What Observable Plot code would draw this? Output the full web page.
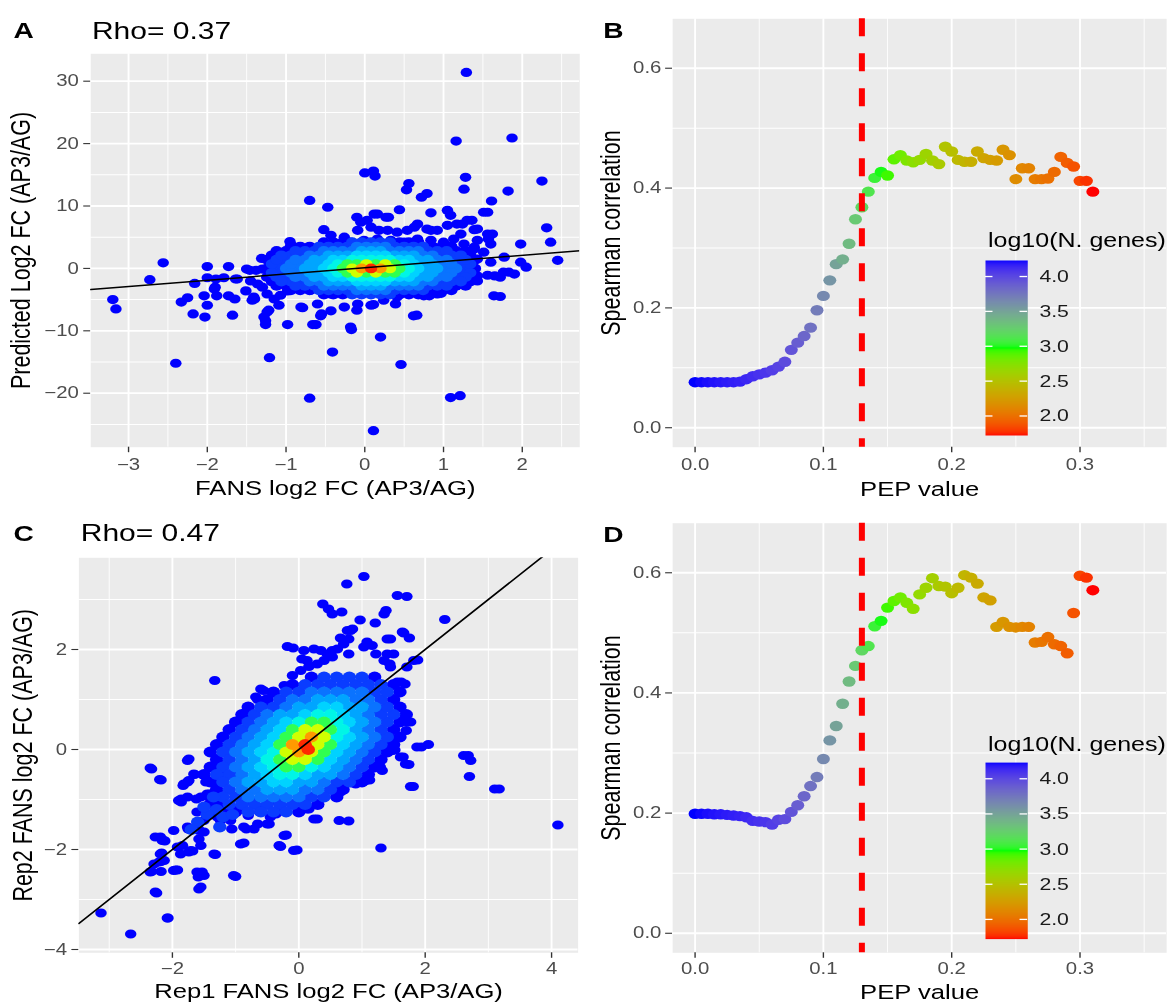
<!DOCTYPE html>
<html><head><meta charset="utf-8">
<script src="https://cdn.jsdelivr.net/npm/d3@7"></script>
<script src="https://cdn.jsdelivr.net/npm/@observablehq/plot@0.6"></script>
<style>
html,body{margin:0;padding:0;background:#fff;overflow:hidden;width:1169px;height:1005px}
#wrap{position:absolute;left:0;top:0;width:935.2px;height:1005px;transform:scaleX(1.25);transform-origin:0 0}
.panel{position:absolute}
.panel svg{display:block}
</style></head><body>
<div id="wrap">
  <div class="panel" id="pA" style="left:0;top:0;width:466px;height:500px"></div>
  <div class="panel" id="pB" style="left:466px;top:0;width:469px;height:500px"></div>
  <div class="panel" id="pC" style="left:0;top:500px;width:466px;height:505px"></div>
  <div class="panel" id="pD" style="left:466px;top:500px;width:469px;height:505px"></div>
  <div class="panel" id="lB" style="left:780px;top:222px;width:155px;height:218px"></div>
  <div class="panel" id="lD" style="left:780px;top:725px;width:155px;height:218.6px"></div>
</div>
<script>
// ---------------- DATA ----------------
const letters = ["A", "B", "C", "D"];
const rhoA = "Rho= 0.37", rhoC = "Rho= 0.47";
const titleAx = "FANS log2 FC (AP3/AG)", titleAy = "Predicted Log2 FC (AP3/AG)";
const titleCx = "Rep1 FANS log2 FC (AP3/AG)", titleCy = "Rep2 FANS log2 FC (AP3/AG)";
const titlePepX = "PEP value", titlePepY = "Spearman correlation";
const legendTitle = "log10(N. genes)";

const aXMajor = [-3, -2, -1, 0, 1, 2], aXMinor = [-2.5, -1.5, -0.5, 0.5, 1.5, 2.5];
const aYMajor = [-20, -10, 0, 10, 20, 30], aYMinor = [-25, -15, -5, 5, 15, 25];
const cXMajor = [-2, 0, 2, 4], cXMinor = [-3, -1, 1, 3];
const cYMajor = [-4, -2, 0, 2], cYMinor = [-3, -1, 1, 3];
const pXMajor = [0, 0.1, 0.2, 0.3], pXMinor = [0.05, 0.15, 0.25, 0.35];
const pYMajor = [0, 0.2, 0.4, 0.6], pYMinor = [0.1, 0.3, 0.5];
const legendTicks = [2.0, 2.5, 3.0, 3.5, 4.0];

const lineA = {intercept: 0.1, slope: 1.0};
const lineC = {intercept: 0.0, slope: 1.0};
const pepCutoff = 0.13;

const densityLevels = [0, 1, 2, 3, 4, 5, 6, 7, 8, 9];
const densityColors = ["#0000FF", "#0A3CFF", "#0A73FF", "#00A5FF", "#00D2FF", "#00F5E6", "#30FF50", "#D0FF00", "#FF9A00", "#FF2A00"];

const nDomain = [1.72, 2.975, 4.23];
const nColors = ["#FF0000", "#00FF00", "#0000FF"];

// ----- Panel A points -----
const aL0scatter = [[1.29,31.4],[1.16,20.4],[1.87,20.9],[0.0,15.3],[0.11,15.6],[0.13,14.8],[1.28,14.6],[1.26,12.7],[2.25,14.0],[0.56,13.6],[0.53,12.6],[0.72,11.4],[0.79,12.0],[1.82,12.4],[-0.70,10.9],[-0.47,9.8],[1.61,10.8],[0.44,9.4],[1.56,9.0],[0.84,8.9],[1.05,9.3],[1.09,8.5],[1.3,7.7],[0.16,8.7],[0.12,8.7],[0.03,7.7],[-0.05,7.4],[-0.10,8.2],[0.30,8.2],[0.27,8.2],
[2.31,6.5],[1.98,3.9],[2.36,4.2],[2.45,1.3],[1.98,1.0],[2.05,0.2],[1.83,-0.6],[1.76,-0.6],[1.72,-4.5],[1.36,7.7],[1.24,7.1],[1.39,6.2],[1.62,5.5],[1.57,4.7],
[-2.56,0.9],[-2.73,-1.8],[-3.2,-5.0],[-3.16,-6.5],[-2.0,0.3],[-1.73,0.3],[-2.33,-5.4],[-2.25,-4.7],[-2.16,-2.4],[-2.18,-7.3],[-2.03,-7.8],[-2.0,-5.9],[-2.04,-4.4],[-1.88,-4.4],[-1.9,-3.0],[-1.73,-4.4],[-1.65,-4.9],[-1.62,-1.7],[-1.68,-7.5],[-2.0,-1.5],[-1.89,-1.7],[-1.91,-3.3],[-1.79,-1.5],[-1.64,-1.7],
[-1.31,1.6],[-1.5,-0.1],[-1.4,-4.9],[-1.24,-7.0],[-1.26,-8.4],[-1.26,-9.0],[-0.98,-9.0],[-0.95,4.3],[-0.93,3.7],[-0.52,6.2],[-0.78,2.3],[-0.79,-6.3],[-0.62,-9.0],[-0.55,-7.3],[-0.17,-9.8],[-0.1,-6.7],[0.11,-5.8],[0.2,-11.0],[-0.41,-13.4],[0.46,-15.4],[-1.21,-14.3],[-2.4,-15.2],[-0.7,-20.8],[1.09,-20.7],[1.21,-20.4],[0.11,-26.0],[0.66,-7.5],[0.39,-5.7],[0.82,-4.4],[0.97,-4.0],[1.27,-2.5],[1.43,-1.2],[1.65,-1.2],[1.39,3.1],
[-1.46,-0.3],[-1.38,-0.3],[-1.3,-0.1],[-1.24,-0.3],[-1.15,-0.6],[-1.07,0.2],[-0.98,0.7],[-0.81,2.3],[-0.9,0.9],[-1.51,-3.6],[-1.45,-2.0],[-1.36,-2.5],[-1.41,-4.6],[-1.3,-3.0],[-1.24,-4.1],[-1.15,-4.9],[-1.07,-4.3],[-0.98,-3.6],[-0.9,-3.0],[-0.84,-2.2],[-1.43,-5.1],[-1.22,-6.7],[-1.28,-7.8],[-1.09,-5.9],[-1.07,-1.9],[-0.98,-1.1],[-0.9,-1.7],
[1.51,9.0],[-0.43,5.3],[-0.26,5.0],[-0.09,6.1],[0.08,6.6],[0.18,6.1],[0.29,6.1],[0.41,5.8],[0.54,6.1],[0.67,7.1],[0.79,6.3],[0.92,6.1],[1.05,6.9],[1.17,7.1],[1.22,5.5],[1.43,6.3],[1.56,5.5],[-0.52,3.9],[-0.35,3.7],[-0.18,4.2],[-0.01,4.5],[0.16,4.7],[0.33,4.5],[0.5,4.2],[0.67,4.7],[0.84,4.5],[1.0,4.2],[1.13,4.7],[1.26,3.9],[1.39,3.4],[1.51,2.6],[1.6,3.9],[-0.64,1.5],[1.26,1.8],[1.43,1.5],[1.6,1.0],[1.77,1.8],[-0.94,0.2],[-0.69,0.7],[-0.9,-2.0],[-0.77,-2.5],[-0.69,-3.5],[-0.56,-3.0],[-0.43,-4.1],[-0.31,-3.5],[-0.14,-3.0],[0.03,-3.5],[0.2,-3.0],[0.37,-3.5],[0.54,-3.0],[0.71,-3.3],[0.88,-2.7],[1.05,-2.5],[1.22,-1.9],[1.39,-1.4],[1.56,-1.1],[1.72,-1.4],[1.9,-0.9],[-0.81,-6.2],[-0.6,-5.7],[-0.43,-6.8],[-0.26,-6.2],[-0.09,-5.7],[0.08,-5.9],[0.24,-5.1],[0.41,-4.6],[0.62,-7.6],[0.75,-4.4],[0.92,-4.1],[1.09,-3.0],[1.26,-2.5],[1.43,-2.0],[1.64,-4.4],[-0.56,-7.6],[-0.18,-9.4],[-0.66,-9.0],
[0.84,6.1],[0.63,6.6],[1.43,4.5]];
const aL0 = [[-1.24,0],[1.4,0],[1.4,1.4],[-1.24,1.4],[1.4,-1.4],[-1.24,-1.4],[1.34,2.1],[-1.18,2.1],[1.34,-2.1],[-1.18,-2.1],[1.16,2.8],[-1.0,2.8],[1.28,2.8],[-1.12,2.8],[1.16,-2.8],[-1.0,-2.8],[1.28,-2.8],[-1.12,-2.8],[0.86,3.5],[-0.7,3.5],[0.98,3.5],[-0.82,3.5],[1.1,3.5],[-0.94,3.5],[0.86,-3.5],[-0.7,-3.5],[0.98,-3.5],[-0.82,-3.5],[1.1,-3.5],[-0.94,-3.5],[0.44,4.2],[-0.28,4.2],[0.56,4.2],[-0.4,4.2],[0.68,4.2],[-0.52,4.2],[0.44,-4.2],[-0.28,-4.2],[0.56,-4.2],[-0.4,-4.2],[0.68,-4.2],[-0.52,-4.2]];
const aL1 = [[-1.12,0],[1.28,0],[1.22,0.7],[-1.06,0.7],[1.34,0.7],[-1.18,0.7],[1.22,-0.7],[-1.06,-0.7],[1.34,-0.7],[-1.18,-0.7],[1.16,1.4],[-1.0,1.4],[1.28,1.4],[-1.12,1.4],[1.16,-1.4],[-1.0,-1.4],[1.28,-1.4],[-1.12,-1.4],[0.98,2.1],[-0.82,2.1],[1.1,2.1],[-0.94,2.1],[1.22,2.1],[-1.06,2.1],[0.98,-2.1],[-0.82,-2.1],[1.1,-2.1],[-0.94,-2.1],[1.22,-2.1],[-1.06,-2.1],[0.8,2.8],[-0.64,2.8],[0.92,2.8],[-0.76,2.8],[1.04,2.8],[-0.88,2.8],[0.8,-2.8],[-0.64,-2.8],[0.92,-2.8],[-0.76,-2.8],[1.04,-2.8],[-0.88,-2.8],[0.38,3.5],[-0.22,3.5],[0.5,3.5],[-0.34,3.5],[0.62,3.5],[-0.46,3.5],[0.74,3.5],[-0.58,3.5],[0.38,-3.5],[-0.22,-3.5],[0.5,-3.5],[-0.34,-3.5],[0.62,-3.5],[-0.46,-3.5],[0.74,-3.5],[-0.58,-3.5],[0.08,4.2],[0.2,4.2],[-0.04,4.2],[0.32,4.2],[-0.16,4.2],[0.08,-4.2],[0.2,-4.2],[-0.04,-4.2],[0.32,-4.2],[-0.16,-4.2]];
const aL2 = [[-1.0,0],[-0.88,0],[1.04,0],[1.16,0],[0.98,0.7],[-0.82,0.7],[1.1,0.7],[-0.94,0.7],[0.98,-0.7],[-0.82,-0.7],[1.1,-0.7],[-0.94,-0.7],[0.92,1.4],[-0.76,1.4],[1.04,1.4],[-0.88,1.4],[0.92,-1.4],[-0.76,-1.4],[1.04,-1.4],[-0.88,-1.4],[0.74,2.1],[-0.58,2.1],[0.86,2.1],[-0.7,2.1],[0.74,-2.1],[-0.58,-2.1],[0.86,-2.1],[-0.7,-2.1],[0.32,2.8],[-0.16,2.8],[0.44,2.8],[-0.28,2.8],[0.56,2.8],[-0.4,2.8],[0.68,2.8],[-0.52,2.8],[0.32,-2.8],[-0.16,-2.8],[0.44,-2.8],[-0.28,-2.8],[0.56,-2.8],[-0.4,-2.8],[0.68,-2.8],[-0.52,-2.8],[0.14,3.5],[0.02,3.5],[0.26,3.5],[-0.1,3.5],[0.14,-3.5],[0.02,-3.5],[0.26,-3.5],[-0.1,-3.5]];
const aL3 = [[-0.76,0],[-0.64,0],[0.8,0],[0.92,0],[0.74,0.7],[-0.58,0.7],[0.86,0.7],[-0.7,0.7],[0.74,-0.7],[-0.58,-0.7],[0.86,-0.7],[-0.7,-0.7],[0.68,1.4],[-0.52,1.4],[0.8,1.4],[-0.64,1.4],[0.68,-1.4],[-0.52,-1.4],[0.8,-1.4],[-0.64,-1.4],[0.38,2.1],[-0.22,2.1],[0.5,2.1],[-0.34,2.1],[0.62,2.1],[-0.46,2.1],[0.38,-2.1],[-0.22,-2.1],[0.5,-2.1],[-0.34,-2.1],[0.62,-2.1],[-0.46,-2.1],[0.08,2.8],[0.2,2.8],[-0.04,2.8],[0.08,-2.8],[0.2,-2.8],[-0.04,-2.8]];
const aL4 = [[-0.52,0],[0.68,0],[0.62,0.7],[-0.46,0.7],[0.62,-0.7],[-0.46,-0.7],[0.44,1.4],[-0.28,1.4],[0.56,1.4],[-0.4,1.4],[0.44,-1.4],[-0.28,-1.4],[0.56,-1.4],[-0.4,-1.4],[0.14,2.1],[0.02,2.1],[0.26,2.1],[-0.1,2.1],[0.14,-2.1],[0.02,-2.1],[0.26,-2.1],[-0.1,-2.1]];
const aL5 = [[-0.4,0],[0.56,0],[0.5,0.7],[-0.34,0.7],[0.5,-0.7],[-0.34,-0.7],[0.08,1.4],[0.2,1.4],[-0.04,1.4],[0.32,1.4],[-0.16,1.4],[0.08,-1.4],[0.2,-1.4],[-0.04,-1.4],[0.32,-1.4],[-0.16,-1.4]];
const aL6 = [[-0.28,0],[0.44,0],[0.38,0.7],[-0.22,0.7],[0.14,0.7],[-0.1,0.7],[0.38,-0.7],[-0.22,-0.7],[0.02,-0.7],[0.26,-0.7]];
const aL7 = [[-0.16,0],[0.32,0],[0.02,0.7],[0.26,0.7],[0.14,-0.7],[-0.1,-0.7]];
const aL8 = [[-0.04,0],[0.2,0]];
const aL9 = [[0.08,0]];

// ----- Panel C points -----
const cL0scatter = [[1.03,3.46],[0.76,3.31],[0.38,2.91],[0.47,2.81],[0.53,2.71],[0.68,2.75],[0.97,2.59],[1.21,2.53],[1.35,2.71],[1.38,2.78],[1.56,3.08],[1.71,3.06],[2.31,2.6],[1.66,2.33],[1.75,2.23],[1.45,2.21],[0.85,2.41],[0.66,2.23],[-0.18,2.06],[-0.09,2.03],[-1.33,1.38],[1.88,1.79],[1.71,1.65],[1.44,1.71],[1.5,1.91],[1.62,1.35],[1.68,1.31],[1.77,0.55],[1.7,0.38],[1.94,0.05],[2.05,0.1],[2.68,-0.12],[2.72,-0.22],[2.7,-0.54],[3.17,-0.79],[4.1,-1.51],[1.81,-0.74],[1.74,-0.3],[1.65,-0.15],[1.52,-0.01],[1.47,0.21],[1.33,0.06],[1.3,-1.97],[0.79,-1.43],[0.29,-1.39],[0.16,-1.19],[-0.03,-2.01],[-0.2,-1.71],[-0.29,-1.94],[-0.03,-1.05],[0.9,-0.69],[1.12,-0.61],[0.66,-0.85],[-1.0,-2.54],[-0.87,-1.87],[-1.32,-2.1],[-1.53,-2.45],[-1.59,-2.55],[-1.5,-2.52],[-1.55,-2.75],[-1.92,-2.41],[-2.07,-3.37],[-2.66,-3.69],[-3.13,-3.27],[-2.25,-2.87],[-2.33,-2.44],[-2.18,-2.44],[-2.18,-2.24],[-2.17,-2.07],[-2.27,-1.75],[-2.12,-1.83],[-1.87,-2.09],[-1.68,-2.03],[-1.84,-1.92],[-1.74,-1.59],[-1.59,-1.59],[-1.5,-1.65],[-1.86,-0.99],[-1.86,-1.05],[-2.33,-0.39],[-2.18,-0.61],[-1.74,-0.19],[-1.83,-0.72],[-1.74,-0.62],[-1.65,-0.5],[-1.36,-0.34],[-1.15,-0.05],[-1.33,-0.65],[-1.18,-0.55],[-1.62,-0.99],[-1.41,-0.89],[-1.36,-1.05],[-1.5,-1.22],[-1.33,-1.12],[-1.24,-1.42],[-1.06,-1.59],[-0.83,-1.59],[-0.65,-1.49],[-0.47,-1.49],[-1.18,-1.25],[-1.0,-1.22],[-0.8,-1.32],[-0.62,-1.25],[-0.36,-1.29],[-0.24,-1.22],[-0.33,-1.05],[-0.56,1.18],[-0.39,1.13],[-0.65,1.0],[-0.83,0.75],[-0.74,0.71],[-0.89,0.15],[-0.8,0.45],[-0.95,0.19],
[0.08,1.98],[0.24,2.01],[0.35,1.98],[0.45,1.91],[0.53,1.98],[0.61,2.01],[0.05,1.81],[0.13,1.78],[-0.6,1.21],[-0.68,1.05],[-0.42,1.15],[-0.76,0.48],[-0.53,0.91],[-0.23,1.28],[-0.1,1.48],[0.03,1.58],[0.16,1.66],[0.29,1.71],[0.4,1.78],[0.53,1.85],[0.71,2.11],[0.77,2.38],[0.79,1.91],
[0.82,2.38],[0.79,2.21],[1.08,2.15],[1.16,2.08],[1.22,1.91],[1.4,2.21],[1.64,2.35],[1.4,1.91],[1.03,2.05],[1.35,1.78],[1.45,1.65],[1.82,1.78],[1.56,1.35],[1.24,0.81],[1.72,0.55],[1.29,0.31],[1.43,0.18],[1.45,0.01],[1.87,0.05],[1.27,0.08],[1.48,-0.02],[1.08,-0.05],[1.11,-0.22],[1.61,-0.15],[1.69,-0.29],[1.29,-0.35],[1.32,-0.42],[1.06,-0.62],[0.85,-0.67],[0.61,-0.82],[1.77,-0.74],[2.61,-0.12],[3.1,-0.79],[1.14,0.78],[0.93,0.51],[0.98,0.31],
[-1.66,-0.49],[-1.82,-0.69],[-1.9,-1.02],[-1.1,-0.29],[-1.39,-0.35],[-1.24,-0.42],[-1.03,-0.52],[-1.47,-0.65],[-1.29,-0.62],[-1.55,-0.95],[-1.42,-1.09],[-1.29,-1.02],[-1.61,-1.25],[-1.5,-1.42],[-1.29,-1.35],[-1.08,-1.42],[-0.87,-1.55],[-0.71,-1.59],[-0.5,-1.49],[-0.45,-1.35],[-1.13,-1.12],[-0.92,-1.15],[-0.76,-1.02],[-0.6,-1.19],[-0.29,-1.22],[-0.02,-1.05],[0.13,-1.19],[0.24,-1.39],[0.64,-1.42],[-0.23,-1.72],[-0.31,-1.92],[-0.08,-2.02],[-0.92,-1.89],[-1.34,-2.09],[-1.76,-1.55],[-1.98,-1.62],[-1.58,-1.79],[-1.55,-1.92],[-1.74,-2.05],[-2.19,-1.75],[-2.13,-1.82],[-2.29,-2.29],[-2.13,-2.22],[-1.98,-2.42],[-1.61,-2.45],[-1.03,-2.52],
[-2.35,-0.37],[-2.2,-0.6],[-1.76,-0.22],[-1.76,-0.65],[-1.76,-0.95],[-1.45,-0.89],[-1.75,-1.59],[-1.58,-1.62],[-2.16,-1.82],[-1.92,-1.95],[-1.71,-2.02],[-2.19,-2.09],[-2.21,-2.25],[-2.35,-2.45],[-1.95,-2.41],[-2.27,-2.85],[-2.08,-3.37],[-1.58,-2.79]];
const cL0 = [[1.5,0.1],[-1.3,0.1],[-1.2,0.25],[1.6,0.25],[1.4,-0.05],[-1.4,-0.05],[-1.1,0.4],[1.5,0.4],[1.3,-0.2],[-1.3,-0.2],[-1.0,0.55],[1.6,0.55],[1.2,-0.35],[-1.4,-0.35],[-0.9,0.7],[1.7,0.7],[1.1,-0.5],[-1.5,-0.5],[-0.8,0.85],[1.6,0.85],[1.0,-0.65],[-1.4,-0.65],[-0.5,1.0],[1.5,1.0],[0.7,-0.8],[-1.3,-0.8],[-0.4,1.15],[1.6,1.15],[0.6,-0.95],[-1.4,-0.95],[-0.1,1.3],[1.5,1.3],[0.3,-1.1],[-1.3,-1.1],[0.2,1.45],[1.2,1.45],[0.0,-1.25],[-1.0,-1.25]];
const cL1 = [[1.3,0.1],[-1.1,0.1],[-1.0,0.25],[1.4,0.25],[1.2,-0.05],[-1.2,-0.05],[-0.9,0.4],[1.3,0.4],[1.1,-0.2],[-1.1,-0.2],[-0.8,0.55],[1.4,0.55],[1.0,-0.35],[-1.2,-0.35],[-0.7,0.7],[1.3,0.7],[1.5,0.7],[0.9,-0.5],[-1.1,-0.5],[-1.3,-0.5],[-0.4,0.85],[-0.6,0.85],[1.4,0.85],[0.6,-0.65],[0.8,-0.65],[-1.2,-0.65],[-0.3,1.0],[1.3,1.0],[0.5,-0.8],[-1.1,-0.8],[0.0,1.15],[1.2,1.15],[-0.2,1.15],[1.4,1.15],[0.2,-0.95],[-1.0,-0.95],[0.4,-0.95],[-1.2,-0.95],[0.1,1.3],[0.3,1.3],[0.5,1.3],[0.7,1.3],[0.9,1.3],[1.1,1.3],[1.3,1.3],[0.1,-1.1],[-0.1,-1.1],[-0.3,-1.1],[-0.5,-1.1],[-0.7,-1.1],[-0.9,-1.1],[-1.1,-1.1],[0.4,1.45],[0.6,1.45],[0.8,1.45],[1.0,1.45],[-0.2,-1.25],[-0.4,-1.25],[-0.6,-1.25],[-0.8,-1.25],[-1.3,-1.2],[-1.45,-1.3],[-1.6,-1.45],[-1.5,-1.15],[-1.35,-0.95],[-1.2,-1.35],[-1.7,-1.6],[-1.05,-1.3],[-1.25,-1.55]];
const cL2 = [[1.1,0.1],[-0.9,0.1],[-0.8,0.25],[1.2,0.25],[1.0,-0.05],[-1.0,-0.05],[-0.7,0.4],[1.1,0.4],[0.9,-0.2],[-0.9,-0.2],[-0.6,0.55],[1.2,0.55],[0.8,-0.35],[-1.0,-0.35],[-0.5,0.7],[1.1,0.7],[0.7,-0.5],[-0.9,-0.5],[-0.2,0.85],[1.2,0.85],[0.4,-0.65],[-1.0,-0.65],[0.1,1.0],[-0.1,1.0],[0.9,1.0],[1.1,1.0],[0.1,-0.8],[0.3,-0.8],[-0.7,-0.8],[-0.9,-0.8],[0.2,1.15],[0.4,1.15],[0.6,1.15],[0.8,1.15],[1.0,1.15],[0.0,-0.95],[-0.2,-0.95],[-0.4,-0.95],[-0.6,-0.95],[-0.8,-0.95]];
const cL3 = [[0.9,0.1],[-0.7,0.1],[-0.6,0.25],[1.0,0.25],[0.8,-0.05],[-0.8,-0.05],[-0.5,0.4],[0.9,0.4],[0.7,-0.2],[-0.7,-0.2],[-0.4,0.55],[1.0,0.55],[0.6,-0.35],[-0.8,-0.35],[-0.1,0.7],[-0.3,0.7],[0.9,0.7],[0.3,-0.5],[0.5,-0.5],[-0.7,-0.5],[0.2,0.85],[0.0,0.85],[0.8,0.85],[1.0,0.85],[0.0,-0.65],[0.2,-0.65],[-0.6,-0.65],[-0.8,-0.65],[0.3,1.0],[0.5,1.0],[0.7,1.0],[-0.1,-0.8],[-0.3,-0.8],[-0.5,-0.8]];
const cL4 = [[0.7,0.1],[-0.5,0.1],[-0.4,0.25],[0.8,0.25],[0.6,-0.05],[-0.6,-0.05],[-0.3,0.4],[0.5,-0.2],[-0.2,0.55],[0.8,0.55],[0.4,-0.35],[-0.6,-0.35],[0.1,0.7],[0.7,0.7],[0.1,-0.5],[-0.5,-0.5],[0.4,0.85],[0.6,0.85],[-0.2,-0.65],[-0.4,-0.65]];
const cL5 = [[0.6,0.25],[-0.4,-0.05],[0.7,0.4],[-0.5,-0.2],[0.0,0.55],[0.6,0.55],[0.2,-0.35],[-0.4,-0.35],[0.3,0.7],[0.5,0.7],[-0.1,-0.5],[-0.3,-0.5]];
const cL6 = [[0.5,0.1],[-0.3,0.1],[-0.2,0.25],[0.4,-0.05],[-0.1,0.4],[0.5,0.4],[0.3,-0.2],[-0.3,-0.2],[0.2,0.55],[0.4,0.55],[0.0,-0.35],[-0.2,-0.35]];
const cL7 = [[0.3,0.1],[0.0,0.25],[0.4,0.25],[0.2,-0.05],[-0.2,-0.05],[0.1,0.4],[0.3,0.4],[0.1,-0.2],[-0.1,-0.2]];
const cL8 = [[-0.1,0.1],[0.2,0.25],[0.0,-0.05]];
const cL9 = [[0.1,0.1],[0.15,0.0]];

// ----- Panels B & D -----
const pep = [0,0.005,0.01,0.015,0.02,0.025,0.03,0.035,0.04,0.045,0.05,0.055,0.06,0.065,0.07,0.075,0.08,0.085,0.09,0.095,0.1,0.105,0.11,0.115,0.12,0.125,0.13,0.135,0.14,0.145,0.15,0.155,0.16,0.165,0.17,0.175,0.18,0.185,0.19,0.195,0.2,0.205,0.21,0.215,0.22,0.225,0.23,0.235,0.24,0.245,0.25,0.255,0.26,0.265,0.27,0.275,0.28,0.285,0.29,0.295,0.3,0.305,0.31];
const spearmanB = [0.076,0.076,0.076,0.076,0.076,0.076,0.076,0.077,
 0.081,0.086,0.089,0.092,0.096,0.102,0.110,
 0.130,0.142,0.153,0.167,0.196,0.220,
 0.246,0.273,0.281,0.307,0.348,0.368,
 0.394,0.417,0.427,0.421,0.448,0.455,
 0.446,0.443,0.447,0.457,0.446,0.440,
 0.469,0.461,0.447,0.444,0.444,0.461,
 0.450,0.447,0.446,0.464,0.455,0.415,
 0.433,0.433,0.415,0.415,0.416,0.427,
 0.452,0.442,0.436,0.412,0.412,0.394];
const spearmanD = [0.199,0.199,0.199,0.198,0.198,0.197,0.196,0.195,
 0.193,0.187,0.186,0.185,0.181,0.189,0.190,
 0.202,0.213,0.228,0.245,0.260,0.290,
 0.321,0.345,0.382,0.419,0.445,0.471,
 0.478,0.511,0.520,0.542,0.553,0.559,
 0.550,0.540,0.564,0.575,0.591,0.578,
 0.577,0.566,0.575,0.596,0.592,0.582,
 0.559,0.554,0.510,0.518,0.510,0.509,
 0.510,0.510,0.484,0.485,0.493,0.481,
 0.478,0.466,0.533,0.595,0.592,0.571];
const log10Genes = [4.23,4.22,4.21,4.20,4.19,4.18,4.17,4.16,
 4.14,4.12,4.10,4.08,4.05,4.02,3.98,
 3.94,3.89,3.84,3.78,3.72,3.65,
 3.58,3.50,3.43,3.36,3.28,3.20,
 3.12,3.05,2.99,2.93,2.87,2.82,
 2.77,2.72,2.68,2.64,2.60,2.56,
 2.52,2.48,2.44,2.41,2.37,2.34,
 2.30,2.27,2.24,2.21,2.18,2.15,
 2.12,2.09,2.06,2.03,2.00,1.97,
 1.94,1.91,1.87,1.83,1.78,1.72];

// ---------------- BUILD ----------------
const FONT = '"Liberation Sans", Arial, Helvetica, sans-serif';
const TICK_FILL = "#4D4D4D", TICK_STROKE = "#333333";
const STYLE = {fontFamily: FONT, background: "transparent", overflow: "visible", maxWidth: "none"};
const intFmt = d => (d < 0 ? "\u2212" : "") + Math.abs(d);
const decFmt = d => d.toFixed(1);

function toRows(groups) {
  const rows = [];
  groups.forEach(([arr, lev]) => arr.forEach(([x, y]) => rows.push({x, y, lev})));
  return rows;
}
const dataAScatter = toRows([[aL0scatter, 0]]);
const dataACore = toRows([[aL0,0],[aL1,1],[aL2,2],[aL3,3],[aL4,4],[aL5,5],[aL6,6],[aL7,7],[aL8,8],[aL9,9]]);
const dataCScatter = toRows([[cL0scatter, 0]]);
const dataCCore = toRows([[cL0,0],[cL1,1],[cL2,2],[cL3,3],[cL4,4],[cL5,5],[cL6,6],[cL7,7],[cL8,8],[cL9,9]]);
const dataB = pep.map((p, i) => ({pep: p, rho: spearmanB[i], n: log10Genes[i]}));
const dataD = pep.map((p, i) => ({pep: p, rho: spearmanD[i], n: log10Genes[i]}));

const colorN = {type: "linear", domain: nDomain, range: nColors, interpolate: "lab"};
const colorDensity = {type: "ordinal", domain: densityLevels, range: densityColors};

function ggBackground(xMajor, xMinor, yMajor, yMinor) {
  return [
    Plot.frame({fill: "#EBEBEB", stroke: "none"}),
    Plot.gridX(xMinor, {stroke: "#FFFFFF", strokeOpacity: 1, strokeWidth: 0.8}),
    Plot.gridY(yMinor, {stroke: "#FFFFFF", strokeOpacity: 1, strokeWidth: 1.0}),
    Plot.gridX(xMajor, {stroke: "#FFFFFF", strokeOpacity: 1, strokeWidth: 1.5}),
    Plot.gridY(yMajor, {stroke: "#FFFFFF", strokeOpacity: 1, strokeWidth: 1.8})
  ];
}
function ggAxes(xMajor, yMajor, fmt, xPad, yPad) {
  const common = {tickSize: 5.5, tickFormat: fmt, fontSize: 16.3, fill: TICK_FILL, stroke: TICK_STROKE, strokeWidth: 1.1, label: null};
  return [
    Plot.axisX(xMajor, {...common, tickPadding: xPad}),
    Plot.axisY(yMajor, {...common, tickPadding: yPad})
  ];
}
function txt(str, opts) {
  return Plot.text([str], {text: d => d, fill: "#000000", fontFamily: FONT, ...opts});
}
function titles(o) {
  const marks = [
    txt(o.xTitle, {frameAnchor: "bottom", dy: o.xTitleDy, textAnchor: "middle", lineAnchor: "bottom", fontSize: 20.5}),
    txt(o.yTitle, {frameAnchor: "left", dx: o.yTitleDx, rotate: -90, textAnchor: "middle", lineAnchor: "bottom", fontSize: 21.5}),
    txt(o.letter, {frameAnchor: "top-left", dx: o.letterDx, dy: o.letterDy, textAnchor: "start", lineAnchor: "bottom", fontSize: 22.5, fontWeight: "bold"})
  ];
  if (o.rho) marks.push(txt(o.rho, {frameAnchor: "top-left", dx: o.rhoDx, dy: o.rhoDy, textAnchor: "start", lineAnchor: "bottom", fontSize: 24}));
  return marks;
}
function fitLine(coef, domain) {
  return domain.map(x => ({x, y: coef.intercept + coef.slope * x}));
}

// Panel A
const aXDomain = [-3.48, 2.73];
document.getElementById("pA").append(Plot.plot({
  width: 466, height: 500, marginLeft: 72.1, marginRight: 2.7, marginTop: 53.3, marginBottom: 53.3,
  style: STYLE,
  x: {domain: aXDomain, label: null},
  y: {domain: [-28.65, 34.39], label: null},
  color: colorDensity,
  marks: [
    ...ggBackground(aXMajor, aXMinor, aYMajor, aYMinor),
    Plot.dot(dataAScatter, {x: "x", y: "y", fill: "lev", r: 4.6}),
    Plot.dot(dataACore, {x: "x", y: "y", fill: "lev", r: 4.9}),
    Plot.line(fitLine(lineA, aXDomain), {x: "x", y: "y", stroke: "#000000", strokeWidth: 1.5, clip: true}),
    ...ggAxes(aXMajor, aYMajor, intFmt, 6, 4),
    ...titles({letter: letters[0], letterDx: -61.7, letterDy: -15.6, rho: rhoA, rhoDx: 0.9, rhoDy: -15.3,
      xTitle: titleAx, xTitleDy: 47.6, yTitle: titleAy, yTitleDx: -48.3})
  ]
}));

// Panel C
const cXDomain = [-3.48, 4.42];
document.getElementById("pC").append(Plot.plot({
  width: 466, height: 505, marginLeft: 62.6, marginRight: 4, marginTop: 57.3, marginBottom: 52.7,
  style: STYLE,
  x: {domain: cXDomain, label: null},
  y: {domain: [-4.066, 3.834], label: null},
  color: colorDensity,
  marks: [
    ...ggBackground(cXMajor, cXMinor, cYMajor, cYMinor),
    Plot.dot(dataCScatter, {x: "x", y: "y", fill: "lev", r: 4.6}),
    Plot.dot(dataCCore, {x: "x", y: "y", fill: "lev", r: 5.4}),
    Plot.line(fitLine(lineC, cXDomain), {x: "x", y: "y", stroke: "#000000", strokeWidth: 1.5, clip: true}),
    ...ggAxes(cXMajor, cYMajor, intFmt, 4, 4),
    ...titles({letter: letters[2], letterDx: -52.2, letterDy: -16.6, rho: rhoC, rhoDx: 1.5, rhoDy: -16.6,
      xTitle: titleCx, xTitleDy: 45, yTitle: titleCy, yTitleDx: -37.2})
  ]
}));

// Panels B & D
function pepPanel(el, data, height, mTop, mBottom, letter, letterDy, xTitleDy, xPad) {
  document.getElementById(el).append(Plot.plot({
    width: 469, height, marginLeft: 71.6, marginRight: 2.2, marginTop: mTop, marginBottom: mBottom,
    style: STYLE,
    x: {domain: [-0.0175, 0.3675], label: null},
    y: {domain: [-0.0325, 0.6825], label: null},
    color: colorN,
    marks: [
      ...ggBackground(pXMajor, pXMinor, pYMajor, pYMinor),
      Plot.dot(data, {x: "pep", y: "rho", fill: "n", r: 5.2}),
      Plot.ruleX([pepCutoff], {stroke: "#FF0000", strokeWidth: 4.8, strokeDasharray: "18,17"}),
      ...ggAxes(pXMajor, pYMajor, decFmt, xPad, 3.5),
      ...titles({letter, letterDx: -55.5, letterDy, xTitle: titlePepX, xTitleDy, yTitle: titlePepY, yTitleDx: -42})
    ]
  }));
}
pepPanel("pB", dataB, 500, 18.3, 53.3, letters[1], 19, 48.3, 6);
pepPanel("pD", dataD, 505, 22.7, 52.7, letters[3], 18.3, 46, 4);

// Colour bars
function colorbar(el, height, mTop, mBottom, titleDy) {
  document.getElementById(el).append(Plot.plot({
    width: 155, height, marginLeft: 7.9, marginRight: 113.3, marginTop: mTop, marginBottom: mBottom,
    style: STYLE,
    x: {domain: [0, 1], axis: null},
    y: {domain: [nDomain[0], nDomain[2]], label: null},
    color: colorN,
    marks: [
      Plot.raster({x1: 0, x2: 1, y1: nDomain[0], y2: nDomain[2], width: 4, height: 256, fill: (x, y) => y, imageRendering: "auto"}),
      Plot.ruleY(legendTicks, {x1: 0, x2: 0.18, stroke: "#FFFFFF", strokeWidth: 1.3}),
      Plot.ruleY(legendTicks, {x1: 0.82, x2: 1, stroke: "#FFFFFF", strokeWidth: 1.3}),
      Plot.axisY(legendTicks, {anchor: "right", tickSize: 0, tickPadding: 9.3, tickFormat: decFmt, fontSize: 17, fill: "#1A1A1A", label: null}),
      txt(legendTitle, {frameAnchor: "top-left", dx: 2, dy: titleDy, textAnchor: "start", lineAnchor: "bottom", fontSize: 20})
    ]
  }));
}
colorbar("lB", 218, 38, 5, -13.3);
colorbar("lD", 218.6, 37.1, 5, -12);
</script>
</body></html>
